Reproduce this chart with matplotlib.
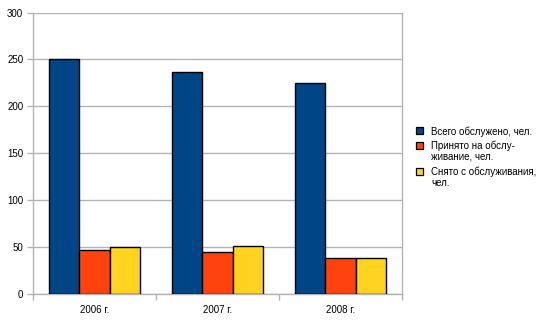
import numpy as np
import matplotlib.pyplot as plt
from matplotlib.patches import Rectangle

plt.rcParams['font.family'] = ['Liberation Sans', 'DejaVu Sans']

years = ['2006 г.', '2007 г.', '2008 г.']
total = [251, 237, 225]
accepted = [47, 45, 38]
removed = [50, 51, 39]
labels = ['Всего обслужено, чел.',
          'Принято на обслу-\nживание, чел.',
          'Снято с обслуживания,\nчел.']
colors = ['#004586', '#ff420e', '#ffd320']

W, H = 554, 329
fig = plt.figure(figsize=(W / 100, H / 100), dpi=100)
ax = fig.add_axes([0.0596, 0.106, 0.666, 0.856])

x = np.arange(len(years))
w = 0.248
for i, vals in enumerate([total, accepted, removed]):
    ax.bar(x + (i - 1) * w, vals, width=w, color=colors[i],
           edgecolor='black', linewidth=1.0, zorder=3)

ax.set_xlim(-0.5, 2.5)
ax.set_ylim(0, 300)
ax.set_yticks(range(0, 301, 50))
ax.set_xticks(x)
ax.set_xticklabels(years)
ax.set_xticks(np.arange(-0.5, 2.6, 1), minor=True)
ax.tick_params(axis='x', which='major', length=0, pad=8, labelsize=7)
ax.tick_params(axis='x', which='minor', length=4, color='#b3b3b3', width=1)
ax.tick_params(axis='y', length=4, color='#b3b3b3', width=1, labelsize=7, pad=3)
ax.yaxis.grid(True, color='#b3b3b3', linewidth=1, zorder=0)
ax.set_axisbelow(True)
for side in ['left', 'bottom', 'right']:
    ax.spines[side].set_color('#b3b3b3')
    ax.spines[side].set_linewidth(1)
ax.spines['top'].set_visible(False)

# legend drawn by hand so the marker sits on the first line of each label
rows = [127.5, 141.5, 167.8]
for lab, col, top in zip(labels, colors, rows):
    fig.patches.append(Rectangle((416 / W, 1 - (top + 7) / H), 7 / W, 7 / H,
                                 transform=fig.transFigure, facecolor=col,
                                 edgecolor='black', linewidth=0.9))
    fig.text(431 / W, 1 - (top - 1) / H, lab, fontsize=7, va='top', ha='left',
             linespacing=1.1)

fig.savefig('out.png', dpi=100)
